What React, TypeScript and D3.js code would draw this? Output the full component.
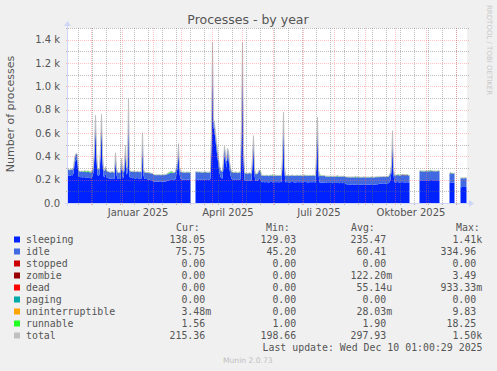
import React from 'react';
import * as d3 from 'd3';

// Time range of the yearly graph (one pixel per day)
const START = new Date(Date.UTC(2024, 10, 7));
const END = new Date(Date.UTC(2025, 11, 12));

// Daily averages (day 0 = 2024-11-07); null = no data
const sleeping: (number | null)[] = [
  235, 238, 232, 236, 240, 236, 255, 330, 365, 372,
  355, 225, 222, 220, 222, 218, 220, 222, 216, 214,
  218, 220, 215, 212, 214, 230, 265, 420, 680, 390,
  240, 232, 245, 420, 690, 360, 232, 218, 255, 220,
  216, 212, 210, 208, 210, 212, 208, 206, 370, 240,
  208, 205, 206, 204, 325, 222, 212, 290, 430, 240,
  262, 820, 225, 215, 214, 212, 215, 213, 210, 212,
  214, 211, 210, 212, 208, 540, 235, 208, 206, 205,
  204, 202, 200, 198, 196, 195, 185, 183, 182, 182,
  184, 183, 182, 181, 182, 183, 184, 183, 185, 186,
  190, 192, 195, 198, 200, 198, 196, 200, 205, 250,
  295, 445, 250, 205, 203, 200, 202, 200, 198, 200,
  202, 200, 198, 200, null, null, null, null, 205, 203,
  202, 200, 204, 202, 200, 198, 200, 202, 203, 200,
  198, 200, 202, 205, 560, 1300, 650, 610, 535, 455,
  390, 320, 262, 222, 212, 210, 310, 415, 360, 300,
  405, 380, 290, 240, 205, 203, 200, 202, 204, 200,
  198, 200, 202, 204, 640, 1300, 400, 195, 193, 192,
  190, 192, 194, 192, 190, 340, 510, 235, 190, 188,
  190, 200, 210, 205, 180, 178, 179, 177, 178, 180,
  178, 176, 178, 179, 180, 178, 177, 178, 180, 178,
  179, 177, 178, 180, 178, 340, 705, 255, 178, 177,
  179, 178, 176, 178, 180, 179, 177, 178, 176, 178,
  180, 178, 177, 179, 178, 176, 178, 180, 179, 177,
  178, 176, 178, 179, 177, 178, 180, 178, 176, 360,
  665, 240, 176, 175, 176, 174, 175, 176, 172, 173,
  172, 171, 172, 173, 172, 170, 172, 171, 172, 173,
  171, 172, 170, 172, 171, 170, 172, 171, 165, 160,
  158, 160, 159, 157, 158, 160, 158, 156, 158, 159,
  160, 158, 157, 158, 156, 158, 160, 158, 157, 156,
  158, 159, 157, 158, 160, 158, 157, 158, 159, 160,
  158, 162, 165, 168, 167, 168, 170, 168, 167, 168,
  169, 170, 180, 200, 270, 550, 240, 178, 176, 178,
  180, 178, 176, 177, 178, 180, 178, 176, 178, 177,
  178, 176, 178, null, null, null, null, null, null, null,
  null, null, 195, 196, 194, 195, 196, 195, 194, 196,
  195, 194, 196, 195, 197, 195, 194, 196, 195, 194,
  196, 195, 194, null, null, null, null, null, null, null,
  null, null, 176, 175, 177, 176, 175, 176, null, null,
  null, null, null, 138, 136, 138, 137, 138, 139, 138,
];

const idle: (number | null)[] = [
  50, 52, 48, 50, 50, 48, 50, 50, 52, 52,
  52, 52, 50, 50, 50, 52, 50, 48, 50, 50,
  48, 46, 48, 50, 50, 50, 55, 60, 68, 60,
  55, 55, 55, 58, 68, 60, 55, 55, 55, 55,
  55, 55, 55, 54, 55, 54, 55, 55, 58, 55,
  55, 55, 56, 55, 55, 55, 55, 58, 62, 58,
  56, 68, 56, 56, 56, 56, 55, 56, 56, 55,
  56, 56, 55, 56, 56, 60, 55, 55, 56, 55,
  56, 56, 57, 58, 58, 58, 57, 57, 58, 57,
  56, 57, 58, 58, 57, 57, 56, 57, 57, 57,
  58, 58, 60, 62, 62, 62, 62, 62, 62, 60,
  60, 62, 60, 62, 62, 63, 62, 62, 63, 64,
  62, 63, 64, 62, null, null, null, null, 62, 62,
  63, 64, 62, 62, 63, 64, 63, 62, 62, 63,
  64, 62, 62, 62, 65, 75, 70, 68, 66, 65,
  62, 60, 58, 58, 60, 60, 65, 70, 62, 60,
  62, 62, 60, 60, 60, 60, 62, 60, 60, 62,
  60, 60, 62, 60, 65, 75, 60, 62, 62, 63,
  62, 62, 63, 62, 62, 60, 65, 60, 60, 60,
  60, 70, 72, 70, 56, 57, 56, 57, 58, 56,
  57, 56, 57, 58, 56, 57, 56, 58, 56, 57,
  56, 57, 58, 56, 57, 60, 70, 60, 57, 57,
  57, 58, 57, 56, 57, 58, 57, 56, 57, 58,
  57, 56, 57, 58, 57, 56, 57, 58, 57, 56,
  57, 58, 57, 56, 57, 58, 57, 56, 57, 60,
  70, 58, 58, 58, 58, 58, 58, 58, 56, 56,
  56, 57, 56, 55, 56, 57, 56, 56, 55, 56,
  57, 56, 56, 55, 56, 57, 56, 56, 58, 62,
  63, 62, 62, 64, 63, 62, 62, 64, 63, 62,
  62, 63, 64, 62, 63, 62, 62, 63, 63, 64,
  62, 62, 63, 62, 62, 63, 62, 62, 63, 62,
  62, 60, 58, 56, 56, 56, 55, 56, 57, 56,
  56, 56, 60, 60, 62, 68, 60, 60, 60, 62,
  60, 60, 62, 60, 60, 61, 60, 62, 60, 60,
  61, 60, 60, null, null, null, null, null, null, null,
  null, null, 78, 78, 79, 78, 77, 78, 79, 78,
  78, 79, 78, 77, 78, 79, 78, 78, 77, 78,
  78, 79, 78, null, null, null, null, null, null, null,
  null, null, 78, 79, 78, 79, 78, 80, null, null,
  null, null, null, 76, 77, 76, 76, 75, 76, 76,
];

// runnable: usual level plus the days where it is visibly higher
const runnableUsual = 1.9;
const runnableDays = [17, 18, 19, 20, 21, 22, 23, 100, 101, 102, 103, 104, 105, 205, 253, 270, 288, 310, 331, 363, 383];
const runnableValues = [8, 9, 8, 8, 9, 8, 8, 8, 9, 8, 9, 8, 8, 10, 8, 8, 10, 8, 8, 10, 8];
// zombie processes seen as a thin dark red band
const zombieDays = [334, 335, 336, 337, 338, 339, 340];
const zombieValues = [3, 3.4, 3.2, 3.4, 3, 3.2, 3];

// axis ticks and labels
const yTicks = [0, 200, 400, 600, 800, 1000, 1200, 1400];
const yTickLabels = ['0.0', '0.2 k', '0.4 k', '0.6 k', '0.8 k', '1.0 k', '1.2 k', '1.4 k'];
const yMinorTicks = [100, 300, 500, 700, 900, 1100, 1300, 1500];
const xLabels = ['Januar 2025', 'April 2025', 'Juli 2025', 'Oktober 2025'];
const xLabelDates = [
  new Date(Date.UTC(2025, 0, 17)),
  new Date(Date.UTC(2025, 3, 17)),
  new Date(Date.UTC(2025, 6, 17)),
  new Date(Date.UTC(2025, 9, 17)),
];
const minorGridFirst = new Date(Date.UTC(2024, 10, 18));

// legend
const legendNames = ['sleeping', 'idle', 'stopped', 'zombie', 'dead', 'paging', 'uninterruptible', 'runnable', 'total'];
const legendColors = ['#0022ff', '#4169e1', '#cc0000', '#990000', '#ff0000', '#00aaaa', '#ffa500', '#22ff22', '#c0c0c0'];
const curVals = ['138.05', ' 75.75', '  0.00', '  0.00', '  0.00', '  0.00', '  3.48m', '  1.56', '215.36'];
const minVals = ['129.03', ' 45.20', '  0.00', '  0.00', '  0.00', '  0.00', '  0.00', '  1.00', '198.66'];
const avgVals = ['235.47', ' 60.41', '  0.00', '122.20m', ' 55.14u', '  0.00', ' 28.03m', '  1.90', '297.93'];
const maxVals = ['  1.41k', '334.96', '  0.00', '  3.49', '933.33m', '  0.00', '  9.83', ' 18.25', '  1.50k'];

const nb = (s: string) => s.replace(/ /g, '\u00a0');

export default function App() {
  const W = 497, H = 371;
  const X0 = 67, X1 = 467, YT = 28, YB = 203;
  const x = d3.scaleUtc().domain([START, END]).range([X0, X1]);
  const y = d3.scaleLinear().domain([0, 1500]).range([YB, YT]);

  const rows = sleeping.map((s, i) => {
    const date = d3.utcHour.offset(d3.utcDay.offset(START, i), 12);
    const ri = runnableDays.indexOf(i);
    const zi = zombieDays.indexOf(i);
    const r = ri >= 0 ? runnableValues[ri] : runnableUsual;
    const z = zi >= 0 ? zombieValues[zi] : 0;
    const id = idle[i];
    if (s == null || id == null) return { date, ok: false, s: 0, i: 0, z: 0, r: 0 };
    return { date, ok: true, s, i: id, z, r };
  });

  type Row = typeof rows[number];
  const mk = (lo: (d: Row) => number, hi: (d: Row) => number) =>
    d3.area<Row>().defined(d => d.ok).x(d => x(d.date)).y0(d => y(lo(d))).y1(d => y(hi(d)))(rows) || '';

  const sleepArea = mk(() => 0, d => d.s);
  const idleArea = mk(d => d.s, d => d.s + d.i);
  const zombieArea = mk(d => d.s + d.i, d => d.s + d.i + d.z);
  const runArea = mk(d => d.s + d.i + d.z, d => d.s + d.i + d.z + d.r);
  const totalLine = d3.line<Row>().defined(d => d.ok).x(d => x(d.date)).y(d => y(d.s + d.i + d.z + d.r))(rows) || '';

  const majorV = d3.utcMonth.range(START, END);
  const minorDates: Date[] = [];
  for (let t = minorGridFirst; t.getTime() < END.getTime(); t = d3.utcDay.offset(t, 14)) minorDates.push(t);

  const ip = (v: number) => Math.round(v);
  const font = 'DejaVu Sans, sans-serif';
  const mono = 'DejaVu Sans Mono, monospace';
  const textCol = '#555';
  const gridGray = 'rgba(110,110,110,0.45)';
  const gridRed = 'rgba(255,100,100,0.4)';
  const axisCol = '#cfd6f8';

  const rowY = (k: number) => 243 + k * 12;

  return (
    <svg width={W} height={H} style={{ position: 'absolute', left: 0, top: 0, background: '#f0f0f0' }}>
      <defs>
        <clipPath id="plot"><rect x={X0} y={YT} width={X1 - X0} height={YB - YT} /></clipPath>
        <pattern id="vg" patternUnits="userSpaceOnUse" x={0} y={0} width={1} height={2}>
          <rect x={0} y={0} width={1} height={1} fill={gridGray} />
        </pattern>
        <pattern id="vr" patternUnits="userSpaceOnUse" x={0} y={0} width={1} height={2}>
          <rect x={0} y={0} width={1} height={1} fill={gridRed} />
        </pattern>
        <pattern id="hg" patternUnits="userSpaceOnUse" x={0} y={0} width={2} height={1}>
          <rect x={0} y={0} width={1} height={1} fill={gridGray} />
        </pattern>
        <pattern id="hr" patternUnits="userSpaceOnUse" x={0} y={0} width={2} height={1}>
          <rect x={0} y={0} width={1} height={1} fill={gridRed} />
        </pattern>
      </defs>
      <rect x={0} y={0} width={W} height={H} fill="#f0f0f0" />
      <rect x={X0} y={YT} width={X1 - X0} height={YB - YT} fill="#ffffff" />
      <g clipPath="url(#plot)">
        <path d={sleepArea} fill="#0022ff" />
        <path d={idleArea} fill="#4169e1" />
        <path d={zombieArea} fill="#990000" />
        <path d={runArea} fill="#22ff22" />
        <path d={totalLine} fill="none" stroke="#c0c0c0" strokeWidth={1} />
      </g>
      {/* grid */}
      <g shapeRendering="crispEdges">
        {yMinorTicks.map(v => (
          <rect key={'hm' + v} x={X0 - 2} width={X1 - X0 + 4} y={ip(y(v))} height={1} fill="url(#hg)" />
        ))}
        {minorDates.map(d => (
          <rect key={'vm' + d.getTime()} x={ip(x(d))} width={1} y={YT} height={YB - YT + 3} fill="url(#vg)" />
        ))}
        {yTicks.filter(v => v > 0).map(v => (
          <rect key={'hM' + v} x={X0 - 2} width={X1 - X0 + 4} y={ip(y(v))} height={1} fill="url(#hr)" />
        ))}
        {majorV.map(d => (
          <rect key={'vM' + d.getTime()} x={ip(x(d))} width={1} y={YT} height={YB - YT + 3} fill="url(#vr)" />
        ))}
        {/* axes */}
        <line x1={X0 - 2} x2={X1 + 3} y1={YB + 0.5} y2={YB + 0.5} stroke={axisCol} />
        <line x1={X0 + 0.5} x2={X0 + 0.5} y1={YB + 3} y2={YT - 3} stroke={axisCol} />
      </g>
      <path d={`M${X1 + 2},${YB - 3} L${X1 + 7},${YB + 0.5} L${X1 + 2},${YB + 4} Z`} fill={axisCol} />
      <path d={`M${X0 - 3},${YT - 2} L${X0 + 0.5},${YT - 7} L${X0 + 4},${YT - 2} Z`} fill={axisCol} />

      {/* y tick labels */}
      {yTicks.map((v, k) => (
        <text key={'yl' + v} x={60} y={y(v) + 3.6} textAnchor="end" fontFamily={font} fontSize={10} fill={textCol}>{yTickLabels[k]}</text>
      ))}
      {/* x labels */}
      {xLabels.map((l, k) => (
        <text key={l} x={x(xLabelDates[k])} y={216} textAnchor="middle" fontFamily={font} fontSize={10} fill={textCol}>{l}</text>
      ))}
      {/* titles */}
      <text x={248} y={23.5} textAnchor="middle" fontFamily={font} fontSize={12.5} fill={textCol}>Processes - by year</text>
      <text transform="translate(14,114) rotate(-90)" textAnchor="middle" fontFamily={font} fontSize={11} fill={textCol}>Number of processes</text>
      <text transform="translate(487,5) rotate(90)" textAnchor="start" fontFamily={font} fontSize={7} fill="#c8c8c8">RRDTOOL / TOBI OETIKER</text>

      {/* legend */}
      <g fontFamily={mono} fontSize={9.9} fill={textCol}>
        <text x={176} y={231}>Cur:</text>
        <text x={266} y={231}>Min:</text>
        <text x={351} y={231}>Avg:</text>
        <text x={456} y={231}>Max:</text>
        {legendNames.map((n, k) => (
          <g key={n}>
            <rect x={14} y={rowY(k) - 6.5} width={6} height={6} fill={legendColors[k]} />
            <text x={26} y={rowY(k)}>{n}</text>
            <text x={169.5} y={rowY(k)}>{nb(curVals[k])}</text>
            <text x={260.5} y={rowY(k)}>{nb(minVals[k])}</text>
            <text x={350.5} y={rowY(k)}>{nb(avgVals[k])}</text>
            <text x={440.5} y={rowY(k)}>{nb(maxVals[k])}</text>
          </g>
        ))}
        <text x={482.5} y={351} textAnchor="end">{nb('Last update: Wed Dec 10 01:00:29 2025')}</text>
      </g>
      <text x={223} y={363} fontFamily={font} fontSize={7.6} fill="#c0c0c0">Munin 2.0.73</text>
    </svg>
  );
}
